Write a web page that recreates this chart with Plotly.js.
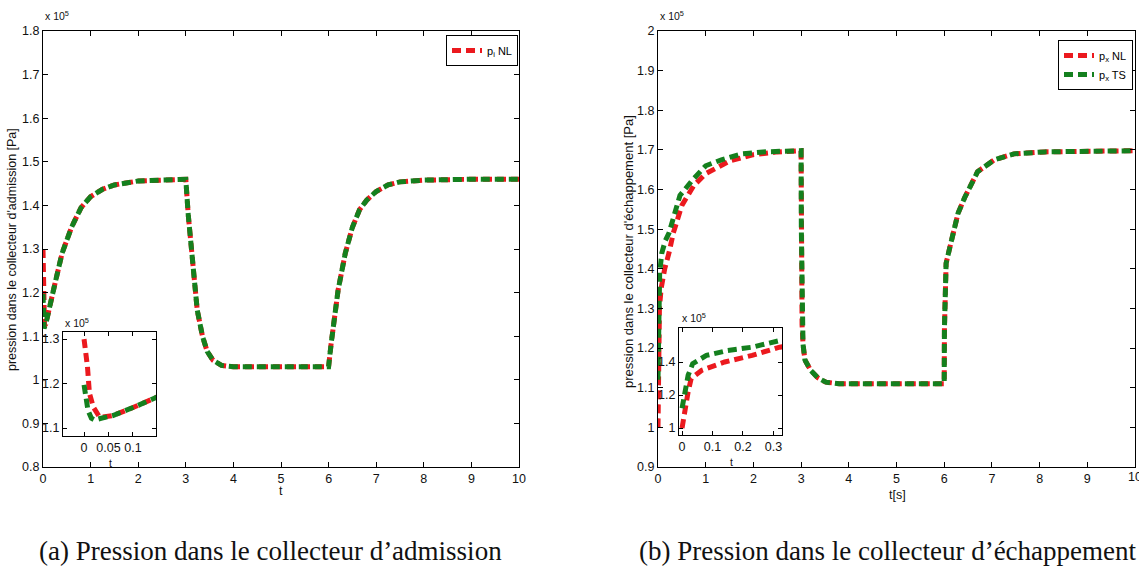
<!DOCTYPE html>
<html><head><meta charset="utf-8">
<script src="https://cdn.plot.ly/plotly-3.0.1.min.js"></script>
<style>html,body{margin:0;padding:0;background:#fff}#c{width:1139px;height:568px}</style>
</head><body><div id="c"></div>
<script>
// ---- (a) intake manifold pressure, x1e5 Pa ----
const adm_nl_t = [0, 0.007, 0.011, 0.019, 0.032, 0.059, 0.1, 0.14, 0.25, 0.4, 0.6, 0.8, 1.0, 1.25, 1.5, 2.0, 2.5, 3.0, 3.05, 3.13, 3.24, 3.35, 3.45, 3.57, 3.75, 4.0, 5.0, 6.0, 6.05, 6.1, 6.2, 6.35, 6.5, 6.65, 6.8, 7.0, 7.25, 7.5, 8.0, 9.0, 10.0];
const adm_nl_p = [1.30, 1.238, 1.178, 1.147, 1.124, 1.128, 1.146, 1.17, 1.22, 1.29, 1.35, 1.395, 1.42, 1.437, 1.447, 1.456, 1.459, 1.46, 1.38, 1.275, 1.16, 1.10, 1.065, 1.045, 1.033, 1.03, 1.03, 1.03, 1.08, 1.13, 1.206, 1.29, 1.35, 1.39, 1.412, 1.432, 1.447, 1.454, 1.458, 1.46, 1.46];
const adm_ts_t = [0, 0.005, 0.008, 0.015, 0.022, 0.035, 0.059, 0.1, 0.14, 0.25, 0.4, 0.6, 0.8, 1.0, 1.25, 1.5, 2.0, 2.5, 3.0, 3.05, 3.13, 3.24, 3.35, 3.45, 3.57, 3.75, 4.0, 5.0, 6.0, 6.05, 6.1, 6.2, 6.35, 6.5, 6.65, 6.8, 7.0, 7.25, 7.5, 8.0, 9.0, 10.0];
const adm_ts_p = [1.197, 1.167, 1.14, 1.122, 1.118, 1.122, 1.128, 1.146, 1.17, 1.22, 1.29, 1.35, 1.395, 1.42, 1.437, 1.447, 1.456, 1.459, 1.46, 1.38, 1.275, 1.16, 1.10, 1.065, 1.045, 1.033, 1.03, 1.03, 1.03, 1.08, 1.13, 1.206, 1.29, 1.35, 1.39, 1.412, 1.432, 1.447, 1.454, 1.458, 1.46, 1.46];

// ---- (b) exhaust manifold pressure, x1e5 Pa ----
const exh_nl_t = [0, 0.005, 0.01, 0.02, 0.03, 0.065, 0.14, 0.23, 0.32, 0.5, 0.75, 1.0, 1.5, 2.0, 2.5, 3.0, 3.005, 3.01, 3.02, 3.04, 3.08, 3.2, 3.35, 3.52, 3.8, 5.0, 6.0, 6.005, 6.01, 6.02, 6.04, 6.12, 6.29, 6.43, 6.7, 7.05, 7.46, 8.1, 9.0, 10.0];
const exh_nl_p = [1.0, 1.06, 1.11, 1.22, 1.30, 1.35, 1.40, 1.44, 1.49, 1.56, 1.61, 1.64, 1.672, 1.688, 1.695, 1.698, 1.5, 1.35, 1.26, 1.21, 1.17, 1.144, 1.125, 1.114, 1.11, 1.11, 1.11, 1.25, 1.33, 1.38, 1.414, 1.455, 1.54, 1.58, 1.645, 1.675, 1.69, 1.695, 1.697, 1.698];
const exh_ts_t = [0, 0.01, 0.02, 0.035, 0.08, 0.15, 0.23, 0.32, 0.46, 0.73, 1.0, 1.33, 1.75, 2.2, 3.0, 3.005, 3.01, 3.02, 3.04, 3.08, 3.2, 3.35, 3.52, 3.8, 5.0, 6.0, 6.005, 6.01, 6.02, 6.04, 6.12, 6.29, 6.43, 6.7, 7.05, 7.46, 8.1, 9.0, 10.0];
const exh_ts_p = [1.12, 1.23, 1.32, 1.39, 1.44, 1.47, 1.49, 1.53, 1.585, 1.625, 1.66, 1.675, 1.69, 1.695, 1.698, 1.5, 1.35, 1.26, 1.21, 1.17, 1.144, 1.125, 1.114, 1.11, 1.11, 1.11, 1.25, 1.33, 1.38, 1.414, 1.455, 1.54, 1.58, 1.645, 1.675, 1.69, 1.695, 1.697, 1.698];

const mainXTicks = [0,1,2,3,4,5,6,7,8,9,10];
const admYTicks = [0.8,0.9,1,1.1,1.2,1.3,1.4,1.5,1.6,1.7,1.8];
const exhYTicks = [0.9,1,1.1,1.2,1.3,1.4,1.5,1.6,1.7,1.8,1.9,2];
const admInsetXTicks = [0, 0.05, 0.1];
const admInsetYTicks = [1.1, 1.2, 1.3];
const exhInsetXTicks = [0, 0.1, 0.2, 0.3];
const exhInsetYTicks = [1, 1.2, 1.4];

const RED = 'rgb(235,25,30)', GREEN = 'rgb(20,128,30)';
const W = 1139, H = 568;
const px = v => v / W, py = v => 1 - v / H;
const dash = '9px,5px';
const lw = 5;

function tr(x, y, color, xa, ya, name, show, leg) {
  return {x, y, type: 'scatter', mode: 'lines', xaxis: xa, yaxis: ya, name,
    showlegend: show, legend: leg, line: {color, width: lw, dash}, hoverinfo: 'skip'};
}
const data = [
  tr(adm_nl_t, adm_nl_p, RED, 'x', 'y', 'p<sub>i</sub> NL', true, 'legend'),
  tr(adm_ts_t, adm_ts_p, GREEN, 'x', 'y', 'p<sub>i</sub> TS', false, 'legend'),
  tr(exh_nl_t, exh_nl_p, RED, 'x2', 'y2', 'p<sub>x</sub> NL', true, 'legend2'),
  tr(exh_ts_t, exh_ts_p, GREEN, 'x2', 'y2', 'p<sub>x</sub> TS', true, 'legend2'),
  tr(adm_nl_t, adm_nl_p, RED, 'x3', 'y3', '', false, 'legend'),
  tr(adm_ts_t, adm_ts_p, GREEN, 'x3', 'y3', '', false, 'legend'),
  tr(exh_nl_t, exh_nl_p, RED, 'x4', 'y4', '', false, 'legend'),
  tr(exh_ts_t, exh_ts_p, GREEN, 'x4', 'y4', '', false, 'legend')
];

const tickFont = {family: 'Liberation Sans Narrow, Arial Narrow, Liberation Sans, Arial', size: 12.5, color: '#111'};
function ax(domain, range, tickvals, anchor, extra) {
  return Object.assign({domain, range, tickvals, anchor, showgrid: false, zeroline: false,
    showline: true, linecolor: '#000', linewidth: 1, mirror: 'ticks', ticks: 'inside',
    ticklen: 5, tickcolor: '#000', tickfont: tickFont, fixedrange: true}, extra || {});
}

const layout = {
  width: W, height: H, margin: {l: 0, r: 0, t: 0, b: 0},
  paper_bgcolor: '#fff', plot_bgcolor: 'rgba(0,0,0,0)',
  xaxis: ax([px(43), px(519)], [0, 10], mainXTicks, 'y'),
  yaxis: ax([py(467), py(31)], [0.8, 1.8], admYTicks, 'x'),
  xaxis2: ax([px(658), px(1135)], [0, 10], mainXTicks, 'y2'),
  yaxis2: ax([py(467), py(31)], [0.9, 2.0], exhYTicks, 'x2'),
  xaxis3: ax([px(63), px(156)], [-0.043, 0.147], admInsetXTicks, 'y3', {ticklen: 4}),
  yaxis3: ax([py(436), py(332)], [1.082, 1.316], admInsetYTicks, 'x3', {ticklen: 4}),
  xaxis4: ax([px(679), px(782)], [-0.01, 0.328], exhInsetXTicks, 'y4', {ticklen: 4}),
  yaxis4: ax([py(435), py(328)], [0.958, 1.606], exhInsetYTicks, 'x4', {ticklen: 4}),
  legend: {x: px(446), y: py(35), xanchor: 'left', yanchor: 'top', bgcolor: '#fff',
    bordercolor: '#000', borderwidth: 1, font: {family: 'Liberation Sans, Arial', size: 11, color: '#000'},
    itemwidth: 30, tracegroupgap: 0},
  legend2: {x: px(1058), y: py(40), xanchor: 'left', yanchor: 'top', bgcolor: '#fff',
    bordercolor: '#000', borderwidth: 1, font: {family: 'Liberation Sans, Arial', size: 11, color: '#000'},
    itemwidth: 30, tracegroupgap: 0},
  shapes: [
    {type: 'rect', xref: 'paper', yref: 'paper', x0: px(63), x1: px(156), y0: py(436), y1: py(332),
     fillcolor: '#fff', line: {width: 0}, layer: 'below'},
    {type: 'rect', xref: 'paper', yref: 'paper', x0: px(679), x1: px(782), y0: py(435), y1: py(328),
     fillcolor: '#fff', line: {width: 0}, layer: 'below'}
  ],
  annotations: []
};
const sans = {family: 'Liberation Sans, Arial', size: 12.5, color: '#111'};
function ann(text, x, y, opts) {
  layout.annotations.push(Object.assign({text, x: px(x), y: py(y), xref: 'paper', yref: 'paper',
    showarrow: false, font: sans, xanchor: 'center', yanchor: 'middle'}, opts || {}));
}
const small = {family: sans.family, size: 10.5, color: '#111'};
ann('x 10<sup>5</sup>', 43, 16, {xanchor: 'left', font: small});
ann('x 10<sup>5</sup>', 658, 16, {xanchor: 'left', font: small});
ann('x 10<sup>5</sup>', 63, 322, {xanchor: 'left', font: small});
ann('x 10<sup>5</sup>', 680, 317, {xanchor: 'left', font: small});
ann("pression dans le collecteur d'admission [Pa]", 12, 250, {textangle: -90});
ann("pression dans le collecteur d'échappement [Pa]", 628, 252, {textangle: -90, font: {family: sans.family, size: 13, color: '#111'}});
ann('10', 1135, 477, {font: tickFont});
ann('t', 281, 491);
ann('t[s]', 897, 495);
ann('t', 110, 463, {font: small});
ann('t', 731, 462, {font: small});
const serif = {family: 'Liberation Serif, Times New Roman, serif', size: 27, color: '#111'};
ann('(a) Pression dans le collecteur d’admission', 270, 551, {font: serif});
ann('(b) Pression dans le collecteur d’échappement', 888, 551, {font: serif});

Plotly.newPlot('c', data, layout, {staticPlot: true, displayModeBar: false});
</script></body></html>
